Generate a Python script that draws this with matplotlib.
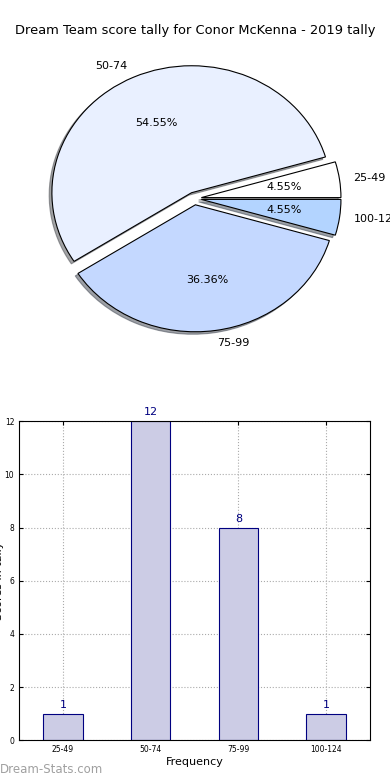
import matplotlib
matplotlib.use('Agg')
import matplotlib.pyplot as plt
import numpy as np

# score bands and how many rounds fell into each
bands = ['25-49', '50-74', '75-99', '100-124']
counts = [1, 12, 8, 1]
pie_colors = ['#FFFFFF', '#E9F0FF', '#C4D8FF', '#B3D4FF']
title = 'Dream Team score tally for Conor McKenna - 2019 tally'

fig = plt.figure(figsize=(3.9, 7.8), dpi=100)
fig.text(0.5, 0.961, title, ha='center', va='center', fontsize=9.4)

# pie (not equal aspect, like the old style)
ax1 = fig.add_axes([0.051, 0.542, 0.895, 0.407])
wedges, texts, autotexts = ax1.pie(counts, labels=bands, colors=pie_colors,
                                   explode=[0.05] * len(counts),
                                   shadow={'ox': -0.014, 'oy': -0.014},
                                   autopct='%1.2f%%', startangle=0,
                                   wedgeprops={'linewidth': 0.8, 'edgecolor': 'black'},
                                   textprops={'fontsize': 8})
ax1.set_aspect('auto')
ax1.set_xlim(-1.25, 1.25)
ax1.set_ylim(-1.25, 1.25)
ax1.axis('off')

# bar chart
ax2 = fig.add_axes([0.049, 0.051, 0.9, 0.409])
x = np.arange(len(bands))
rects = ax2.bar(x, counts, width=0.45, color='#CCCCE5', edgecolor='navy', linewidth=0.8)
for r in rects:
    h = r.get_height()
    ax2.text(r.get_x() + r.get_width() / 2., h + 0.15, '%d' % int(h),
             ha='center', va='bottom', color='navy', fontsize=8)
ax2.set_xlim(-0.5, 3.5)
ax2.set_ylim(0, 12)
ax2.set_yticks(range(0, 13, 2))
ax2.set_xticks(x)
ax2.set_xticklabels(bands)
ax2.tick_params(labelsize=5.5, direction='in', length=3, top=True, right=True)
ax2.grid(True, linestyle=':', color='#AAAAAA', linewidth=0.8)
ax2.set_axisbelow(True)
ax2.set_xlabel('Frequency', fontsize=8, labelpad=2)
ax2.set_ylabel('Scores in tally', fontsize=8)
ax2.yaxis.set_label_coords(-0.044, 0.5)

fig.text(0.0, 0.005, 'Dream-Stats.com', fontsize=8.5, color='#A0A0A0',
         ha='left', va='bottom')

fig.savefig('out.png', dpi=100)
